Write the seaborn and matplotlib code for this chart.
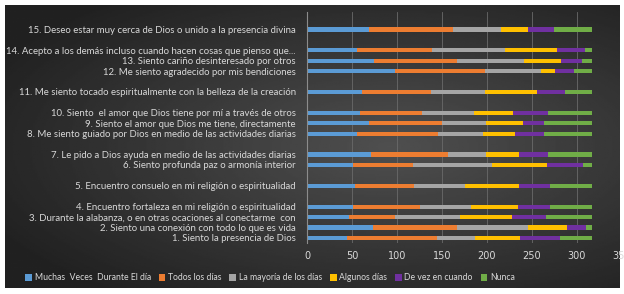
import numpy as np
import pandas as pd
import seaborn as sns
import matplotlib.pyplot as plt
from matplotlib.patches import Patch

# survey items (1 at bottom .. 15 at top) and their slot on the y axis
items = [
    "1. Siento la presencia de Dios",
    "2. Siento una conexión con todo lo que es vida",
    "3. Durante la alabanza, o en otras ocaciones al conectarme  con",
    "4. Encuentro fortaleza en mi religión o espiritualidad",
    "5. Encuentro consuelo en mi religión o espiritualidad",
    "6. Siento profunda paz o armonía interior",
    "7. Le pido a Dios ayuda en medio de las actividades diarias",
    "8. Me siento guiado por Dios en medio de las actividades diarias",
    "9. Siento el amor que Dios me tiene, directamente",
    "10. Siento  el amor que Dios tiene por mí a través de otros",
    "11. Me siento tocado espiritualmente con la belleza de la creación",
    "12. Me siento agradecido por mis bendiciones",
    "13. Siento cariño desinteresado por otros",
    "14. Acepto a los demás incluso cuando hacen cosas que pienso que...",
    "15. Deseo estar muy cerca de Dios o unido a la presencia divina",
]
slots = [0, 1, 2, 3, 5, 7, 8, 10, 11, 12, 14, 16, 17, 18, 20]

series = ["Muchas  Veces  Durante El día", "Todos los días", "La mayoría de los días",
          "Algunos días", "De vez en cuando", "Nunca"]
colors = ["#5B9BD5", "#ED7D31", "#A5A5A5", "#FFC000", "#7030A0", "#70AD47"]

muchas = [44, 73, 47, 51, 53, 51, 71, 56, 69, 59, 61, 98, 74, 56, 69]
todos = [100, 94, 51, 74, 66, 67, 86, 89, 81, 69, 77, 100, 93, 83, 93]
mayoria = [43, 79, 72, 57, 56, 87, 42, 51, 49, 57, 60, 62, 74, 81, 53]
algunos = [50, 43, 58, 52, 61, 62, 37, 35, 41, 44, 57, 16, 41, 58, 31]
devez = [44, 21, 37, 36, 34, 40, 32, 32, 23, 39, 32, 21, 23, 31, 28]
nunca = [36, 7, 52, 47, 47, 10, 49, 54, 54, 49, 30, 20, 12, 8, 43]

df = pd.DataFrame({"slot": slots, "item": items})
vals = [muchas, todos, mayoria, algunos, devez, nunca]
cum = np.cumsum(np.array(vals), axis=0)

W, H = 624, 294
fig = plt.figure(figsize=(W / 100, H / 100), dpi=100, facecolor="white")

# dark radial gradient background panel
bg = fig.add_axes([5 / W, 6 / H, 615 / W, 283 / H])
yy, xx = np.mgrid[-1:1:200j, -1:1:400j]
r = np.sqrt(((xx - 0.25) / 1.2) ** 2 + (yy / 1.1) ** 2)
grad = np.clip(0.31 - 0.15 * r, 0.13, 0.32)
bg.imshow(grad, cmap="gray", vmin=0, vmax=1, aspect="auto", extent=[0, 1, 0, 1])
bg.axis("off")

ax = fig.add_axes([307 / W, 51 / H, 315 / W, 231 / H])
ax.patch.set_alpha(0)

# stacked bars: draw cumulative totals from the outside in
for k in range(5, -1, -1):
    d = df.assign(val=cum[k])
    sns.barplot(data=d, x="val", y="slot", orient="h", native_scale=True,
                width=0.42, color=colors[k], saturation=1, ax=ax, linewidth=0)

ax.set_xlim(0, 350)
ax.set_ylim(-0.48, 21.67)
ax.set_xticks(range(0, 351, 50))
ax.set_yticks(slots)
ax.set_yticklabels(items, fontsize=6.9, color="#d9d9d9", family="Lato")
ax.tick_params(axis="y", length=0, pad=8)
ax.tick_params(axis="x", length=0, pad=6, labelsize=7, labelcolor="#d9d9d9")
ax.set_xlabel("")
ax.set_ylabel("")
ax.grid(axis="x", color="#6a6a6a", linewidth=0.6)
ax.set_axisbelow(True)
for s in ["top", "right", "bottom"]:
    ax.spines[s].set_visible(False)
ax.spines["left"].set_color("#8c8c8c")
ax.spines["left"].set_linewidth(0.8)

handles = [Patch(facecolor=c, label=s) for c, s in zip(colors, series)]
leg = fig.legend(handles=handles, loc="center", ncol=6, frameon=False,
                 bbox_to_anchor=(270 / W, 1 - 278 / H),
                 handlelength=0.8, handleheight=0.8, handletextpad=0.3,
                 columnspacing=0.9, labelcolor="#d9d9d9", prop={"family": "Lato", "size": 6.2})

fig.savefig("out.png", dpi=100, facecolor="white")
